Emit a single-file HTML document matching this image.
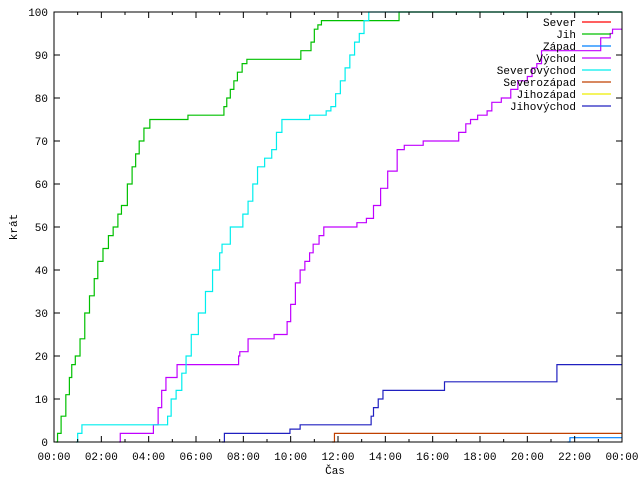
<!DOCTYPE html>
<html><head><meta charset="utf-8"><style>
body{margin:0;background:#fff}
svg{display:block;font-family:"Liberation Mono","DejaVu Sans Mono",monospace;font-size:11px}
</style></head><body>
<svg id="chart" width="640" height="480">
<rect x="0" y="0" width="640" height="480" fill="#fff"/>
<g id="series"></g>
<g id="axes"></g>
<g id="legend"></g>
<text x="335" y="474" text-anchor="middle">Čas</text>
<text x="17" y="227" text-anchor="middle" transform="rotate(-90 17 227)">krát</text>
</svg>
<script>
const xTickLabels = ["00:00","02:00","04:00","06:00","08:00","10:00","12:00","14:00","16:00","18:00","20:00","22:00","00:00"];
const yTickLabels = [0,10,20,30,40,50,60,70,80,90,100];
const seriesNames = ["Sever","Jih","Západ","Východ","Severovýchod","Severozápad","Jihozápad","Jihovýchod"];
const seriesColors = ["#ff0000","#00c000","#0080ff","#c000ff","#00eeee","#c04000","#eeee00","#2020c0"];
const severH = [], severV = [];
const jihH = [0.08,0.15,0.3,0.5,0.65,0.75,0.9,1.1,1.3,1.5,1.7,1.85,2.07,2.3,2.5,2.7,2.85,3.1,3.3,3.45,3.6,3.8,4.05,5.66,7.18,7.3,7.45,7.6,7.75,7.95,8.15,8.37,10.43,10.86,11.0,11.15,11.3,14.58,24];
const jihV = [0,2,6,11,15,18,20,24,30,34,38,42,45,48,50,53,55,60,64,67,70,73,75,76,78,80,82,84,86,88,89,89,91,93,96,97,98,100,100];
const zapadH = [21.7,21.8,24];
const zapadV = [0,1,1];
const vychodH = [2.75,2.8,4.1,4.2,4.4,4.55,4.73,5.2,7.7,7.8,7.85,8.2,9.2,9.3,9.67,9.85,10.0,10.2,10.4,10.6,10.8,10.95,11.2,11.4,12.8,13.2,13.5,13.8,14.1,14.5,14.8,15.6,16.7,17.1,17.4,17.6,17.9,18.3,18.5,18.9,19.3,19.6,20.0,20.2,20.4,20.6,22.95,23.1,23.5,23.6,24];
const vychodV = [0,2,2,4,8,12,15,18,18,20,21,24,24,25,25,28,32,37,40,42,44,46,48,50,51,52,55,59,63,68,69,70,70,72,74,75,76,77,79,80,82,84,85,87,88,91,91,94,95,96,96];
const severovychodH = [0.93,1.0,1.18,4.72,4.8,4.95,5.16,5.4,5.58,5.8,6.1,6.4,6.7,7.0,7.1,7.45,7.98,8.2,8.4,8.6,8.9,9.2,9.4,9.63,10.8,11.5,11.7,11.9,12.1,12.3,12.5,12.7,12.9,13.1,13.3,24];
const severovychodV = [0,2,4,4,6,10,12,16,20,25,30,35,40,44,46,50,53,56,60,64,66,68,72,75,76,77,78,81,84,87,90,93,95,98,100,100];
const severozapadH = [11.75,11.85,24];
const severozapadV = [0,2,2];
const jihozapadH = [], jihozapadV = [];
const jihovychodH = [7.1,7.2,9.97,10.4,13.4,13.5,13.7,13.9,14.05,16.5,21.25,21.4,24];
const jihovychodV = [0,2,3,4,6,8,10,12,12,14,18,18,18];
const allH = [severH,jihH,zapadH,vychodH,severovychodH,severozapadH,jihozapadH,jihovychodH];
const allV = [severV,jihV,zapadV,vychodV,severovychodV,severozapadV,jihozapadV,jihovychodV];

const X0=54,X1=622,Y0=442,Y1=12;
function xs(h){return X0+(X1-X0)*h/24;}
function ys(v){return Y0-(Y0-Y1)*v/100;}
const NS="http://www.w3.org/2000/svg";
function mk(tag,attrs,parent){const e=document.createElementNS(NS,tag);for(const k in attrs)e.setAttribute(k,attrs[k]);parent.appendChild(e);return e;}

const sg=document.getElementById('series');
allH.forEach((H,i)=>{
  if(!H.length)return;
  let d="M"+xs(H[0])+","+ys(allV[i][0]);
  for(let j=1;j<H.length;j++){d+=" H"+xs(H[j])+" V"+ys(allV[i][j]);}
  const p=mk('path',{d:d,fill:'none',stroke:seriesColors[i],'stroke-width':1.2},sg);
  
  
});

const ag=document.getElementById('axes');
const frame=mk('rect',{x:X0,y:Y1,width:X1-X0,height:Y0-Y1,fill:'none',stroke:'#000','stroke-width':1},ag);


yTickLabels.forEach(v=>{
  const y=ys(v);
  mk('line',{x1:X0,x2:X0+6,y1:y,y2:y,stroke:'#000'},ag);
  mk('line',{x1:X1,x2:X1-6,y1:y,y2:y,stroke:'#000'},ag);
  const t=mk('text',{x:48,y:y+4,'text-anchor':'end'},ag);
  t.textContent=v;
  
  
});
for(let h=0;h<=24;h++){
  const x=xs(h),L=(h%2===0)?6:3;
  mk('line',{x1:x,x2:x,y1:Y0,y2:Y0-L,stroke:'#000'},ag);
  mk('line',{x1:x,x2:x,y1:Y1,y2:Y1+L,stroke:'#000'},ag);
}
xTickLabels.forEach((s,i)=>{
  const t=mk('text',{x:xs(i*2),y:460,'text-anchor':'middle'},ag);
  t.textContent=s;
  
  
});

const lg=document.getElementById('legend');
seriesNames.forEach((n,i)=>{
  const y=22+12*i;
  const t=mk('text',{x:576,y:y+4,'text-anchor':'end'},lg);
  t.textContent=n;
  
  
  const l=mk('line',{x1:582,x2:611,y1:y,y2:y,stroke:seriesColors[i],'stroke-width':1.2},lg);
  
  
});
</script>
</body></html>
